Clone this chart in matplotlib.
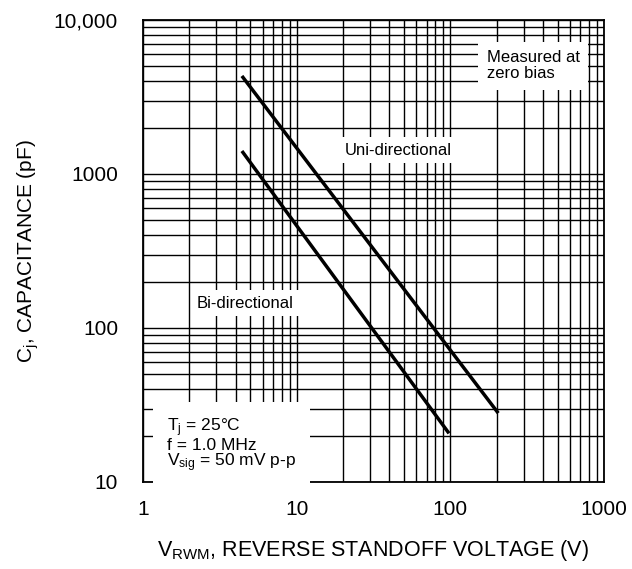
import matplotlib
matplotlib.use('Agg')
import matplotlib.pyplot as plt
from matplotlib.ticker import FixedLocator, LogLocator, NullFormatter

plt.rcParams.update({'font.family': 'Liberation Sans',
                     'mathtext.fontset': 'custom',
                     'mathtext.rm': 'Liberation Sans',
                     'mathtext.it': 'Liberation Sans',
                     'font.size': 14})

# curves (V, pF)
uni_v = [4.4, 205]
uni_c = [4330, 28]
bi_v = [4.4, 98]
bi_c = [1410, 20.7]

x_ticks = [1, 10, 100, 1000]
x_labels = ['1', '10', '100', '1000']
y_ticks = [10, 100, 1000, 10000]
y_labels = ['10', '100', '1000', '10,000']

fig = plt.figure(figsize=(6.32, 5.69), dpi=100)
ax = fig.add_axes([0.2263, 0.1529, 0.7294, 0.812])
ax.set_xscale('log')
ax.set_yscale('log')
ax.set_xlim(1, 1000)
ax.set_ylim(10, 10000)

ax.xaxis.set_major_locator(FixedLocator(x_ticks))
ax.set_xticklabels(x_labels)
ax.yaxis.set_major_locator(FixedLocator(y_ticks))
ax.set_yticklabels(y_labels)
ax.xaxis.set_minor_locator(LogLocator(base=10, subs=range(2, 10)))
ax.yaxis.set_minor_locator(LogLocator(base=10, subs=range(2, 10)))
ax.xaxis.set_minor_formatter(NullFormatter())
ax.yaxis.set_minor_formatter(NullFormatter())
ax.tick_params(which='both', length=0, labelsize=15)
ax.tick_params(axis='x', pad=13)
ax.tick_params(axis='y', pad=18)
ax.grid(which='both', color='black', lw=1.0)
ax.set_axisbelow(True)
for s in ax.spines.values():
    s.set_linewidth(1.3)

ax.plot(uni_v, uni_c, color='black', lw=2.5, solid_capstyle='butt', zorder=3)
ax.plot(bi_v, bi_c, color='black', lw=2.5, solid_capstyle='butt', zorder=3)

box = dict(facecolor='white', edgecolor='none', pad=4)
ax.text(45.5, 1430, 'Uni-directional', ha='center', va='center', fontsize=12, bbox=box, zorder=4)
ax.text(4.6, 145, 'Bi-directional', ha='center', va='center', fontsize=12, bbox=box, zorder=4)
ax.text(172, 5050, 'Measured at\nzero bias', ha='left', va='center', fontsize=12,
        linespacing=1.12, bbox=dict(facecolor='white', edgecolor='none', pad=6), zorder=4)
ax.text(1.43, 17.4, '$\\mathregular{T_j}$ = 25°C\nf = 1.0 MHz\n$\\mathregular{V_{sig}}$ = 50 mV p-p',
        ha='left', va='center', fontsize=12.5, linespacing=0.92,
        bbox=dict(facecolor='white', edgecolor='none', pad=10), zorder=4)

ax.set_xlabel('$\\mathregular{V_{RWM}}$, REVERSE STANDOFF VOLTAGE (V)', fontsize=15.5, labelpad=14)
ax.set_ylabel('$\\mathregular{C_j}$, CAPACITANCE (pF)', fontsize=15, labelpad=9)

fig.savefig('out.png', dpi=100)
